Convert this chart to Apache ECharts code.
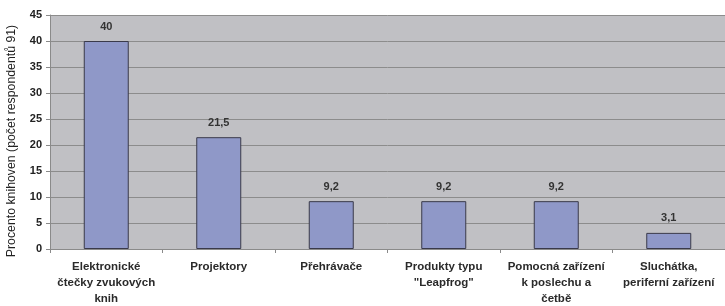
<!DOCTYPE html>
<html>
<head>
<meta charset="utf-8">
<script src="https://cdn.jsdelivr.net/npm/echarts@6/dist/echarts.min.js"></script>
<style>
  html, body { margin: 0; padding: 0; background: #fff; }
  #chart { width: 725px; height: 306px; }
</style>
</head>
<body>
<div id="chart"></div>
<script>
// data
const categories = [
  'Elektronické\nčtečky zvukových\nknih',
  'Projektory',
  'Přehrávače',
  'Produkty typu\n"Leapfrog"',
  'Pomocná zařízení\nk poslechu a\nčetbě',
  'Sluchátka,\nperiferní zařízení'
];
const values = [40, 21.5, 9.2, 9.2, 9.2, 3.1];
const yTitle = 'Procento knihoven (počet respondentů 91)';

const chart = echarts.init(document.getElementById('chart'));

const font = 'Arial, "Liberation Sans", sans-serif';

chart.setOption({
  animation: false,
  grid: {
    left: 50, right: 0, top: 15, bottom: 57,
    outerBoundsMode: 'none',
    containLabel: false,
    show: true,
    backgroundColor: '#c0c0c4',
    borderWidth: 0
  },
  xAxis: {
    type: 'category',
    data: categories,
    axisLine: { lineStyle: { color: '#8a8a8a' } },
    axisTick: { show: true, length: 4, lineStyle: { color: '#8a8a8a' } },
    axisLabel: {
      interval: 0, color: '#2a2a2a', fontFamily: font, fontSize: 11.5,
      fontWeight: 'bold', lineHeight: 16, margin: 10
    }
  },
  yAxis: {
    type: 'value',
    min: 0, max: 45, interval: 5,
    name: yTitle,
    nameLocation: 'middle',
    nameRotate: 90,
    nameGap: 32,
    nameTextStyle: {
      color: '#222', fontFamily: font, fontSize: 12.3,
      padding: [0, 18, 0, 0]
    },
    axisLine: { show: true, lineStyle: { color: '#8a8a8a' } },
    axisTick: { show: true, length: 4, lineStyle: { color: '#8a8a8a' } },
    axisLabel: { color: '#222', fontFamily: font, fontSize: 11, fontWeight: 'bold', margin: 8 },
    splitLine: { lineStyle: { color: '#8c8c8c', width: 1 } }
  },
  series: [{
    type: 'bar',
    data: values,
    barWidth: '40%',
    itemStyle: { color: '#8f98c8', borderColor: '#3a3a4a', borderWidth: 1 },
    label: {
      show: true, position: 'top', distance: 9,
      color: '#333', fontFamily: font, fontSize: 11, fontWeight: 'bold',
      formatter: (p) => String(p.value).replace('.', ',')
    }
  }]
});
</script>
</body>
</html>
